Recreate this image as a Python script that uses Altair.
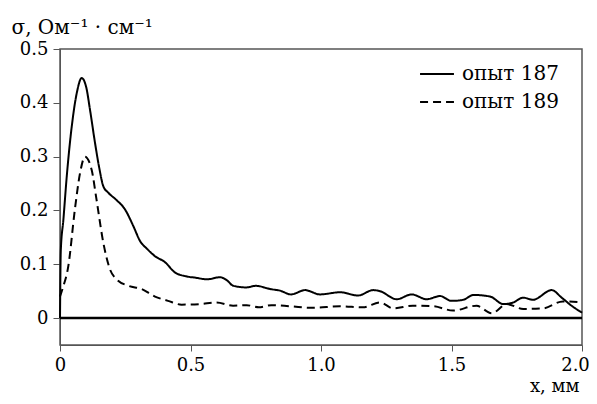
import altair as alt
import pandas as pd

series_names = ["опыт 187", "опыт 189"]

x187 = [0, 0.003, 0.013, 0.026, 0.045, 0.065, 0.083, 0.1, 0.115, 0.134, 0.15, 0.166, 0.185, 0.215, 0.249,
        0.28, 0.307, 0.335, 0.364, 0.402, 0.44, 0.479, 0.52, 0.563, 0.613, 0.64, 0.664, 0.715, 0.75, 0.805,
        0.843, 0.885, 0.939, 0.996, 1.073, 1.142, 1.2, 1.226, 1.29, 1.347, 1.405, 1.456, 1.5, 1.545, 1.584,
        1.648, 1.699, 1.736, 1.775, 1.812, 1.884, 1.922, 1.96, 2.0]
y187 = [0, 0.125, 0.183, 0.264, 0.356, 0.42, 0.446, 0.43, 0.387, 0.326, 0.28, 0.245, 0.233, 0.22, 0.202,
        0.172, 0.143, 0.128, 0.115, 0.104, 0.085, 0.078, 0.075, 0.072, 0.076, 0.07, 0.06, 0.057, 0.06, 0.054,
        0.051, 0.044, 0.052, 0.044, 0.048, 0.042, 0.052, 0.05, 0.035, 0.044, 0.035, 0.041, 0.032, 0.034, 0.043,
        0.04, 0.026, 0.029, 0.038, 0.034, 0.052, 0.038, 0.023, 0.01]

x189 = [0, 0.01, 0.032, 0.057, 0.077, 0.096, 0.121, 0.14, 0.166, 0.192, 0.217, 0.262, 0.313, 0.364, 0.414,
        0.466, 0.536, 0.6, 0.663, 0.715, 0.762, 0.81, 0.881, 0.969, 1.073, 1.161, 1.226, 1.277, 1.352, 1.43,
        1.506, 1.596, 1.654, 1.712, 1.775, 1.85, 1.927, 2.0]
y189 = [0.04, 0.055, 0.097, 0.202, 0.27, 0.30, 0.276, 0.22, 0.14, 0.09, 0.072, 0.06, 0.054, 0.04, 0.032,
        0.025, 0.026, 0.029, 0.023, 0.024, 0.02, 0.024, 0.022, 0.019, 0.022, 0.02, 0.029, 0.018, 0.023, 0.022,
        0.014, 0.023, 0.009, 0.026, 0.017, 0.018, 0.031, 0.029]

x_ticks = [0, 0.5, 1.0, 1.5, 2.0]
y_ticks = [0, 0.1, 0.2, 0.3, 0.4, 0.5]

rows = []
for xv, yv in zip(x187, y187):
    rows.append({"x": xv, "y": yv, "s": series_names[0]})
for xv, yv in zip(x189, y189):
    rows.append({"x": xv, "y": yv, "s": series_names[1]})
df = pd.DataFrame(rows)

FONT = "DejaVu Serif"
lab_expr = "datum.value == 0 ? '0' : format(datum.value, '.1f')"

lines = alt.Chart(df).mark_line(color="black", strokeWidth=2, interpolate="monotone").encode(
    x=alt.X("x:Q", scale=alt.Scale(domain=[0, 2], nice=False),
            axis=alt.Axis(values=x_ticks, labelExpr=lab_expr, title="x, мм",
                          titleFontSize=18, titleFontWeight="normal",
                          titleAlign="right", titleAnchor="end", titleX=519, titleY=46, titleBaseline="alphabetic",
                          labelFontSize=18, labelColor="black", labelPadding=5,
                          labelOffset={"expr": "datum.value >= 2 ? -7 : 0"},
                          tickSize=6, tickColor="#555", domainColor="#555", grid=False, labelFlush=False)),
    y=alt.Y("y:Q", scale=alt.Scale(domain=[-0.05, 0.5], nice=False, zero=False),
            axis=alt.Axis(values=y_ticks, labelExpr=lab_expr, title="σ, Ом⁻¹ · см⁻¹",
                          titleFontSize=20, titleFontWeight="normal",
                          titleAngle=0, titleAlign="left", titleX=-49, titleY=-16, titleBaseline="alphabetic",
                          labelFontSize=18, labelColor="black", labelPadding=5,
                          tickSize=7, tickColor="#555", domainColor="#555", grid=False)),
    strokeDash=alt.StrokeDash("s:N", scale=alt.Scale(domain=series_names, range=[[1, 0], [8, 5]]),
                              legend=alt.Legend(title=None, orient="none", legendX=359, legendY=7,
                                                labelFontSize=20, labelColor="black",
                                                symbolType="stroke", symbolSize=1150, symbolStrokeWidth=2,
                                                symbolStrokeColor="black", rowPadding=-10, labelOffset=7)),
)

zero = alt.Chart(pd.DataFrame({"y": [0]})).mark_rule(color="black", strokeWidth=2.5).encode(y="y:Q")

chart = alt.layer(zero, lines).properties(
    width=522, height=296,
    autosize=alt.AutoSizeParams(type="none"),
    padding={"left": 52, "top": 41, "right": 7, "bottom": 51},
).configure(background="white", font=FONT).configure_view(stroke="#555", strokeWidth=1.5)

chart.save("out.html", embed_options={"renderer": "svg", "actions": False})
